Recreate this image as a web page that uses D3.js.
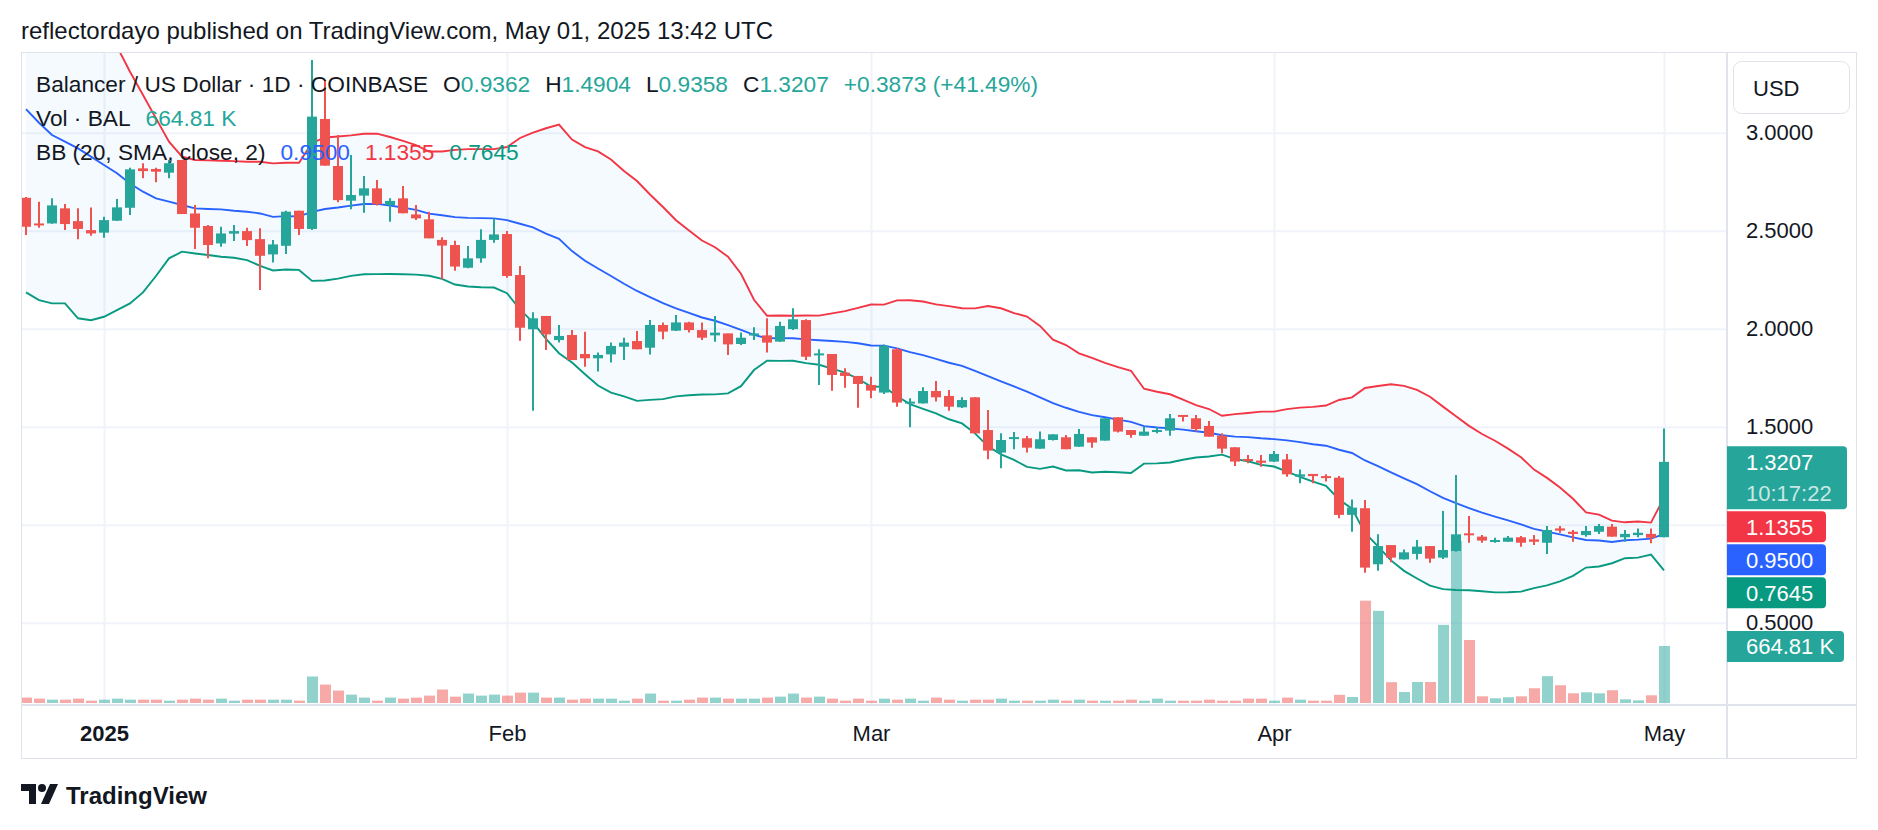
<!DOCTYPE html>
<html>
<head>
<meta charset="utf-8">
<script src="https://cdn.jsdelivr.net/npm/d3@7"></script>
<style>
  body { margin: 0; background: #fff; }
  svg { display: block; }
</style>
</head>
<body>
<div id="chart"></div>
<script>
// ---- data ----
var firstDay = "2024-12-26";   // one bar per day up to 2025-05-01

var openP = [2.668,2.537,2.537,2.614,2.549,2.503,2.490,2.551,2.617,2.818,2.815,2.796,2.861,2.588,2.524,2.435,2.485,2.498,2.457,2.379,
  2.423,2.602,2.509,3.070,2.830,2.653,2.679,2.716,2.631,2.665,2.583,2.558,2.453,2.427,2.311,2.359,2.453,2.483,2.274,1.997,
  2.065,1.942,1.968,1.871,1.849,1.869,1.908,1.937,1.903,2.019,1.990,2.032,1.993,1.966,1.976,1.922,1.965,1.966,1.934,1.998,
  2.044,1.864,1.871,1.776,1.759,1.713,1.674,1.895,1.619,1.619,1.682,1.657,1.599,1.650,1.483,1.368,1.438,1.441,1.388,1.432,
  1.446,1.398,1.446,1.429,1.548,1.483,1.454,1.473,1.480,1.560,1.543,1.504,1.454,1.395,1.335,1.327,1.322,1.333,1.245,1.259,
  1.248,1.240,1.050,1.084,0.798,0.896,0.823,0.851,0.891,0.832,0.866,0.956,0.939,0.913,0.913,0.936,0.925,0.908,0.981,0.964,
  0.947,0.964,0.990,0.936,0.947,0.953,0.9362];
var highP = [2.672,2.648,2.665,2.636,2.614,2.619,2.571,2.662,2.821,2.844,2.821,2.861,2.861,2.631,2.529,2.520,2.529,2.515,2.512,2.452,
  2.602,2.602,3.371,3.269,2.988,2.886,2.779,2.759,2.665,2.728,2.631,2.597,2.466,2.449,2.422,2.507,2.563,2.498,2.320,2.084,
  2.065,2.019,1.993,1.985,1.878,1.930,1.954,1.988,2.044,2.032,2.070,2.036,2.031,2.065,1.976,1.981,2.007,2.053,2.036,2.104,
  2.048,1.895,1.871,1.798,1.759,1.755,1.920,1.900,1.645,1.701,1.733,1.687,1.650,1.650,1.585,1.466,1.473,1.453,1.475,1.461,
  1.458,1.488,1.446,1.543,1.548,1.483,1.500,1.500,1.565,1.560,1.560,1.529,1.466,1.395,1.356,1.356,1.376,1.361,1.282,1.259,
  1.257,1.248,1.129,1.126,0.951,0.896,0.874,0.922,0.891,1.070,1.254,1.044,0.947,0.934,0.942,0.942,0.947,0.993,0.993,0.973,
  0.993,1.004,1.004,0.973,0.981,0.981,1.4904];
var lowP = [2.478,2.515,2.535,2.503,2.457,2.474,2.464,2.550,2.580,2.767,2.747,2.767,2.585,2.406,2.359,2.418,2.447,2.422,2.197,2.338,
  2.381,2.478,2.503,2.832,2.645,2.609,2.592,2.629,2.546,2.589,2.555,2.461,2.252,2.296,2.308,2.337,2.439,2.260,1.939,1.582,
  1.891,1.929,1.840,1.806,1.781,1.828,1.840,1.895,1.869,1.946,1.988,1.981,1.942,1.934,1.866,1.917,1.942,1.878,1.934,1.993,
  1.840,1.713,1.684,1.699,1.597,1.645,1.667,1.602,1.497,1.619,1.628,1.582,1.596,1.466,1.334,1.288,1.385,1.368,1.388,1.429,
  1.385,1.398,1.393,1.429,1.470,1.444,1.454,1.466,1.454,1.526,1.475,1.449,1.364,1.300,1.313,1.296,1.320,1.245,1.211,1.211,
  1.220,1.033,0.964,0.755,0.765,0.808,0.823,0.823,0.806,0.825,0.862,0.908,0.908,0.908,0.913,0.888,0.896,0.851,0.959,0.913,
  0.939,0.953,0.939,0.913,0.936,0.905,0.9358];
var closeP = [2.520,2.529,2.629,2.534,2.509,2.486,2.554,2.619,2.813,2.804,2.801,2.844,2.585,2.515,2.427,2.486,2.498,2.452,2.372,2.430,
  2.597,2.509,3.082,2.832,2.656,2.682,2.716,2.635,2.652,2.589,2.563,2.461,2.424,2.317,2.359,2.453,2.481,2.269,2.005,2.053,
  1.971,1.963,1.840,1.849,1.866,1.912,1.929,1.895,2.019,1.985,2.032,1.993,1.954,1.980,1.920,1.954,1.976,1.929,2.014,2.048,
  1.857,1.874,1.764,1.759,1.718,1.684,1.913,1.623,1.628,1.682,1.650,1.602,1.636,1.466,1.378,1.432,1.447,1.393,1.436,1.461,
  1.385,1.463,1.419,1.543,1.475,1.458,1.475,1.483,1.543,1.551,1.488,1.449,1.388,1.322,1.327,1.316,1.361,1.257,1.257,1.248,
  1.238,1.050,1.087,0.781,0.891,0.832,0.859,0.888,0.827,0.871,0.951,0.947,0.919,0.922,0.934,0.908,0.913,0.973,0.970,0.953,
  0.968,0.993,0.939,0.953,0.959,0.9334,1.3207];
// volume in thousands of BAL
var volK = [63,51,39,39,51,27,39,51,39,39,39,27,39,51,39,51,27,39,39,39,
  39,27,309,215,145,98,63,27,63,51,63,86,157,74,110,86,98,86,121,121,
  63,63,39,51,51,51,27,51,110,27,27,39,63,63,51,51,51,63,74,110,
  63,74,51,27,51,27,51,39,51,27,63,39,27,39,39,51,27,27,27,39,
  27,39,27,27,27,39,27,51,27,27,27,39,27,27,51,51,27,63,39,27,
  27,95,70,1193,1075,243,128,245,245,911,1889,735,78,55,67,78,172,313,207,113,
  125,113,149,43,31,90,664.81];

// Bollinger values for the first 19 bars (their 20-day window starts before the chart)
var bbMidEarly = [3.120,3.051,2.988,2.954,2.920,2.878,2.835,2.793,2.741,2.699,2.665,2.648,2.631,2.614,2.611,2.609,2.602,2.597,2.588];
var bbUpEarly  = [4.050,3.960,3.850,3.780,3.790,3.710,3.610,3.440,3.311,3.192,3.073,2.954,2.878,2.861,2.859,2.857,2.855,2.852,2.852];
var bbLowEarly = [2.185,2.146,2.129,2.129,2.053,2.043,2.061,2.095,2.129,2.185,2.269,2.359,2.393,2.384,2.376,2.367,2.362,2.350,2.321];
var bbLegend = [0.9500, 1.1355, 0.7645];   // basis, upper, lower shown in the legend

var priceTicks = [0.5, 1.0, 1.5, 2.0, 2.5, 3.0];
var monthTicks = ["2025-01-01", "2025-02-01", "2025-03-01", "2025-04-01", "2025-05-01"];
var monthLabels = ["2025", "Feb", "Mar", "Apr", "May"];

// ---- layout ----
var W = 1878, H = 830;
var paneL = 21.5, paneR = 1726, paneT = 53, paneB = 704;
var upCol = "#26a69a", downCol = "#ef5350";
var font = "'Liberation Sans', Arial, sans-serif";

var parse = d3.utcParse("%Y-%m-%d");
var dates = d3.utcDay.range(parse(firstDay), d3.utcDay.offset(parse("2025-05-01"), 1));
var bars = dates.map(function (d, i) {
  return {date: d, o: openP[i], h: highP[i], l: lowP[i], c: closeP[i], v: volK[i]};
});

// Bollinger (20, SMA, close, 2)
bars.forEach(function (b, i) {
  if (i < 19) {
    b.mid = bbMidEarly[i]; b.up = bbUpEarly[i]; b.low = bbLowEarly[i];
  } else {
    var win = closeP.slice(i - 19, i + 1);
    var m = d3.mean(win);
    var sd = Math.sqrt(d3.mean(win, function (c) { return (c - m) * (c - m); }));
    b.mid = m; b.up = m + 2 * sd; b.low = m - 2 * sd;
  }
});

var x = d3.scaleUtc().domain([dates[0], dates[dates.length - 1]]).range([26, 1664]);
var y = d3.scaleLinear().domain([0.5, 3.0]).range([622.7, 132.7]);
var yv = d3.scaleLinear().domain([0, 2000]).range([703, 531.5]);

var svg = d3.select("#chart").append("svg")
    .attr("width", W)
    .attr("height", H)
    .style("font-family", font);

svg.append("defs").append("clipPath").attr("id", "pane")
  .append("rect")
    .attr("x", paneL).attr("y", paneT)
    .attr("width", paneR - paneL).attr("height", paneB - paneT);

// header
svg.append("text")
    .attr("x", 21)
    .attr("y", 39)
    .attr("font-size", 24)
    .attr("fill", "#131722")
    .text("reflectordayo published on TradingView.com, May 01, 2025 13:42 UTC");

// grid
var grid = svg.append("g").attr("clip-path", "url(#pane)");
grid.append("g")
    .attr("transform", "translate(" + paneL + ",0)")
    .call(d3.axisRight(y).tickValues(priceTicks).tickSize(paneR - paneL).tickFormat(""))
    .call(function (g) { g.select(".domain").remove(); })
    .selectAll("line").attr("stroke", "#f0f3fa").attr("stroke-width", 2);
grid.append("g")
    .attr("transform", "translate(0," + paneT + ")")
    .call(d3.axisBottom(x).tickValues(monthTicks.map(parse)).tickSize(paneB - paneT).tickFormat(""))
    .call(function (g) { g.select(".domain").remove(); })
    .selectAll("line").attr("stroke", "#f0f3fa").attr("stroke-width", 2);

var plot = svg.append("g").attr("clip-path", "url(#pane)");

// BB background
plot.append("path")
    .datum(bars)
    .attr("fill", "rgba(33,150,243,0.05)")
    .attr("d", d3.area()
      .x(function (d) { return x(d.date); })
      .y0(function (d) { return y(d.low); })
      .y1(function (d) { return y(d.up); }));

// volume
plot.selectAll(".vol")
    .data(bars)
    .enter()
    .append("rect")
    .attr("class", "vol")
    .attr("x", function (d) { return x(d.date) - 5; })
    .attr("y", function (d) { return yv(d.v); })
    .attr("width", 11)
    .attr("height", function (d) { return yv(0) - yv(d.v); })
    .attr("fill", function (d) { return d.c >= d.o ? "rgba(38,166,154,0.5)" : "rgba(239,83,80,0.5)"; });

// BB lines
[["up", "#f23645"], ["mid", "#2962ff"], ["low", "#089981"]].forEach(function (s) {
  plot.append("path")
      .datum(bars)
      .attr("fill", "none")
      .attr("stroke", s[1])
      .attr("stroke-width", 1.9)
      .attr("d", d3.line()
        .x(function (d) { return x(d.date); })
        .y(function (d) { return y(d[s[0]]); }));
});

// candles
var candle = plot.selectAll(".candle")
    .data(bars)
    .enter()
    .append("g")
    .attr("class", "candle")
    .attr("fill", function (d) { return d.c >= d.o ? upCol : downCol; })
    .attr("stroke", function (d) { return d.c >= d.o ? upCol : downCol; });
candle.append("line")
    .attr("x1", function (d) { return x(d.date); })
    .attr("x2", function (d) { return x(d.date); })
    .attr("y1", function (d) { return y(d.h); })
    .attr("y2", function (d) { return y(d.l); })
    .attr("stroke-width", 2);
candle.append("rect")
    .attr("stroke", "none")
    .attr("x", function (d) { return x(d.date) - 5; })
    .attr("width", 10)
    .attr("y", function (d) { return y(Math.max(d.o, d.c)); })
    .attr("height", function (d) { return Math.max(2, Math.abs(y(d.o) - y(d.c))); });

// frame and separators
svg.append("rect")
    .attr("x", 21.5).attr("y", 52.5).attr("width", 1835).attr("height", 706)
    .attr("fill", "none").attr("stroke", "#e0e3eb");
svg.append("line")
    .attr("x1", 21.5).attr("x2", 1856.5).attr("y1", 705).attr("y2", 705)
    .attr("stroke", "#e0e3eb").attr("stroke-width", 2);
svg.append("line")
    .attr("x1", 1727).attr("x2", 1727).attr("y1", 52.5).attr("y2", 758.5)
    .attr("stroke", "#e0e3eb").attr("stroke-width", 2);

// price axis
var pAxis = svg.append("g")
    .attr("transform", "translate(1746,0)")
    .call(d3.axisRight(y).tickValues(priceTicks).tickSize(0).tickPadding(0).tickFormat(d3.format(".4f")));
pAxis.select(".domain").remove();
pAxis.selectAll("text")
    .attr("font-family", font)
    .attr("font-size", 22)
    .attr("fill", "#131722");

// USD button
svg.append("rect")
    .attr("x", 1733.5).attr("y", 61.5).attr("width", 116).attr("height", 52).attr("rx", 8)
    .attr("fill", "#fff").attr("stroke", "#e0e3eb");
svg.append("text")
    .attr("x", 1753).attr("y", 88).attr("dy", "0.35em")
    .attr("font-size", 22).attr("fill", "#131722")
    .text("USD");

// time axis
var tAxis = svg.append("g")
    .attr("transform", "translate(0,733)")
    .call(d3.axisBottom(x).tickValues(monthTicks.map(parse)).tickSize(0).tickPadding(0)
      .tickFormat(function (d, i) { return monthLabels[i]; }));
tAxis.select(".domain").remove();
tAxis.selectAll("text")
    .attr("dy", "0.35em")
    .attr("font-family", font)
    .attr("font-size", 22)
    .attr("fill", "#131722")
    .attr("font-weight", function (d, i) { return i === 0 ? "bold" : "normal"; });

// price tags on the axis
var last = bars[bars.length - 1];
var tags = [
  {v: last.c, lines: [d3.format(".4f")(last.c), "10:17:22"], fill: upCol, w: 120},
  {v: bbLegend[1], lines: [d3.format(".4f")(bbLegend[1])], fill: "#f23645", w: 99},
  {v: bbLegend[0], lines: [d3.format(".4f")(bbLegend[0])], fill: "#2962ff", w: 99},
  {v: bbLegend[2], lines: [d3.format(".4f")(bbLegend[2])], fill: "#089981", w: 99}
];
var prevBottom = -1e9;
tags.forEach(function (t) {
  var h = t.lines.length === 2 ? 63 : 31;
  var top = Math.max(y(t.v) - 15.5, prevBottom + 2);
  prevBottom = top + h;
  svg.append("path")
      .attr("fill", t.fill)
      .attr("d", "M1727," + top + "h" + (t.w - 4) + "a4,4 0 0 1 4,4v" + (h - 8) +
        "a4,4 0 0 1 -4,4h" + (-(t.w - 4)) + "z");
  t.lines.forEach(function (s, k) {
    svg.append("text")
        .attr("x", 1746).attr("y", top + 15.5 + k * 31).attr("dy", "0.35em")
        .attr("font-size", 22)
        .attr("fill", k === 0 ? "#fff" : "rgba(255,255,255,0.75)")
        .text(s);
  });
});
var vTop = yv(last.v) - 15;
svg.append("path")
    .attr("fill", upCol)
    .attr("d", "M1727," + vTop + "h113a4,4 0 0 1 4,4v23a4,4 0 0 1 -4,4h-113z");
svg.append("text")
    .attr("x", 1746).attr("y", vTop + 15.5).attr("dy", "0.35em")
    .attr("font-size", 22).attr("fill", "#fff")
    .text(d3.format(".2f")(last.v) + " K");

// legend
var fmt = d3.format(".4f");
var chg = last.c - bars[bars.length - 2].c;
var legSize = 22.7;
var leg1 = svg.append("text").attr("x", 36).attr("y", 92).attr("font-size", legSize).attr("fill", "#131722");
leg1.append("tspan").text("Balancer / US Dollar · 1D · COINBASE");
[["O", last.o], ["H", last.h], ["L", last.l], ["C", last.c]].forEach(function (p) {
  leg1.append("tspan").attr("dx", 15).text(p[0]);
  leg1.append("tspan").attr("fill", upCol).text(fmt(p[1]));
});
leg1.append("tspan").attr("dx", 15).attr("fill", upCol)
    .text("+" + fmt(chg) + " (+" + d3.format(".2f")(chg / bars[bars.length - 2].c * 100) + "%)");

var leg2 = svg.append("text").attr("x", 36).attr("y", 126).attr("font-size", legSize).attr("fill", "#131722");
leg2.append("tspan").text("Vol · BAL");
leg2.append("tspan").attr("dx", 15).attr("fill", upCol).text(d3.format(".2f")(last.v) + " K");

var leg3 = svg.append("text").attr("x", 36).attr("y", 160).attr("font-size", legSize).attr("fill", "#131722");
leg3.append("tspan").text("BB (20, SMA, close, 2)");
leg3.append("tspan").attr("dx", 15).attr("fill", "#2962ff").text(fmt(bbLegend[0]));
leg3.append("tspan").attr("dx", 15).attr("fill", "#f23645").text(fmt(bbLegend[1]));
leg3.append("tspan").attr("dx", 15).attr("fill", "#089981").text(fmt(bbLegend[2]));

// footer logo
var logo = svg.append("g").attr("transform", "translate(21,784)").attr("fill", "#131722");
logo.append("path").attr("d", "M0,0h15v20h-7v-13h-8z");
logo.append("circle").attr("cx", 21).attr("cy", 4).attr("r", 4);
logo.append("path").attr("d", "M29,0h8l-9,20h-8z");
svg.append("text")
    .attr("x", 66).attr("y", 804)
    .attr("font-size", 24).attr("font-weight", 600).attr("fill", "#131722")
    .text("TradingView");
</script>
</body>
</html>
